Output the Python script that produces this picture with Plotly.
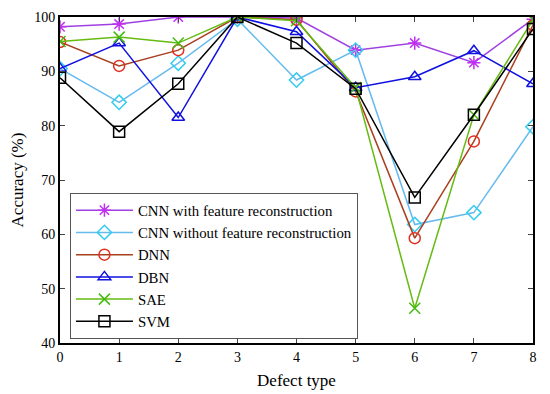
import plotly.graph_objects as go

defect_types = [0, 1, 2, 3, 4, 5, 6, 7, 8]
cnn_with = [98.2, 98.7, 100, 100, 99.8, 93.9, 95.2, 91.6, 99.6]
cnn_without = [90.5, 84.3, 91.5, 99.6, 88.4, 93.9, 61.8, 64.0, 79.8]
dnn = [95.4, 91.0, 93.9, 100, 99.5, 86.3, 59.3, 77.1, 98.5]
dbn = [90.5, 95.2, 81.5, 100, 97.3, 87.0, 89.0, 93.8, 87.7]
sae = [95.5, 96.3, 95.2, 100, 99.3, 87.0, 46.4, 82.0, 99.5]
svm = [88.8, 78.9, 87.7, 100, 95.2, 86.8, 66.8, 82.0, 97.8]

series = [
    ("CNN with feature reconstruction", cnn_with, "#A040E0", "#C030F0", "asterisk-open"),
    ("CNN without feature reconstruction", cnn_without, "#66BBEE", "#33CCEE", "diamond-open"),
    ("DNN", dnn, "#A84020", "#E03020", "circle-open"),
    ("DBN", dbn, "#1010E0", "#1010E0", "triangle-up-open"),
    ("SAE", sae, "#66BB11", "#44BB11", "x-thin-open"),
    ("SVM", svm, "#000000", "#000000", "square-open"),
]

fig = go.Figure()
for name, vals, lc, mc, sym in series:
    fig.add_trace(go.Scatter(
        x=defect_types, y=vals, name=name, mode="lines+markers",
        line=dict(color=lc, width=1.5),
        marker=dict(symbol=sym, size=11, color=mc, line=dict(color=mc, width=1.5)),
    ))

font = dict(family="Liberation Serif, Times New Roman, serif", size=14, color="black")
fig.update_layout(
    width=542, height=386,
    margin=dict(l=52, r=17, t=9, b=51, autoexpand=False),
    paper_bgcolor="white", plot_bgcolor="white",
    font=font,
    showlegend=True,
    legend=dict(x=0.021, y=0.46, xanchor="left", yanchor="top",
                bgcolor="white", bordercolor="#555555", borderwidth=1,
                itemwidth=57,
                font=dict(family=font["family"], size=14.8), tracegroupgap=0),
)
fig.update_xaxes(range=[0, 8], tickvals=defect_types, ticks="inside", ticklen=5,
                 showline=True, linecolor="black", linewidth=2, mirror="ticks",
                 showgrid=False, zeroline=False, automargin=False,
                 title=dict(text="Defect type", standoff=10))
fig.update_yaxes(range=[40, 100], tickvals=[40, 50, 60, 70, 80, 90, 100], ticks="inside", ticklen=5,
                 showline=True, linecolor="black", linewidth=2, mirror="ticks",
                 showgrid=False, zeroline=False, automargin=False,
                 title=dict(text="Accuracy (%)", standoff=10))

fig.write_html("out.html")
